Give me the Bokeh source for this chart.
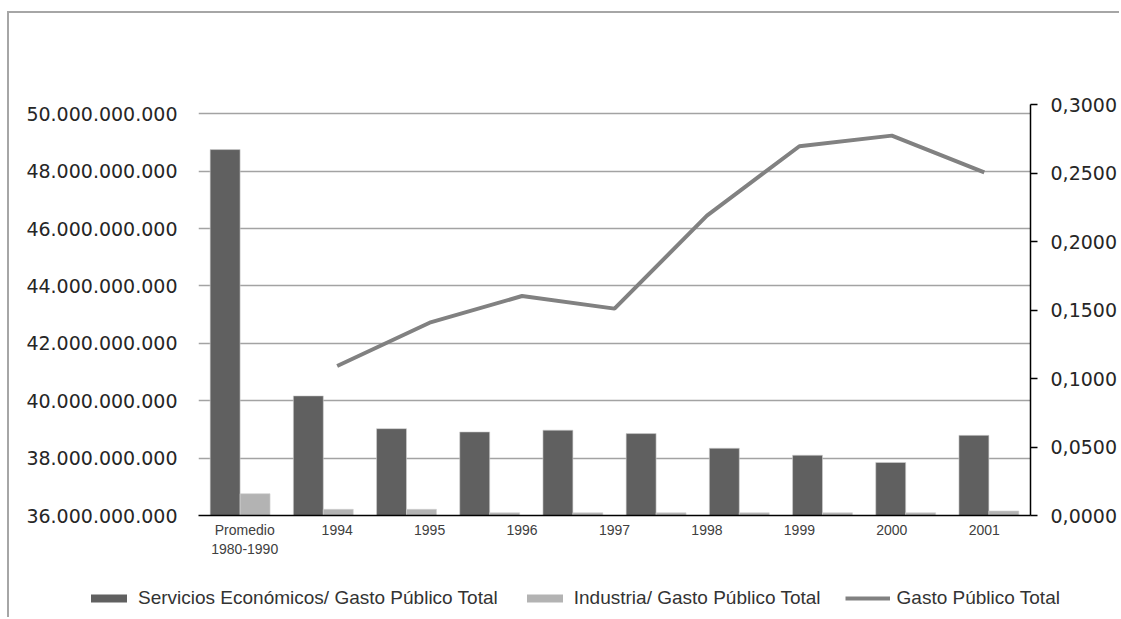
from bokeh.plotting import figure
from bokeh.models import (Range1d, FactorRange, LinearAxis, CategoricalAxis, FixedTicker,
                          Grid, CustomJSTickFormatter, Legend, LegendItem, ColumnDataSource)
from bokeh.embed import file_html
from bokeh.resources import INLINE

# ---- data ----
year_labels = ["Promedio\n1980-1990", "1994", "1995", "1996", "1997",
               "1998", "1999", "2000", "2001"]
bar_slots = [0, 1, 2, 3, 4, 5, 6, 7, 8, 9]
servicios_ratio = [0.2671, 0.0873, 0.0634, 0.0610, 0.0623, 0.0598, 0.0491, 0.0440, 0.0387, 0.0585]
industria_ratio = [0.0159, 0.0045, 0.0045, 0.0020, 0.0020, 0.0020, 0.0020, 0.0020, 0.0020, 0.0033]
gasto_years = ["1994", "1995", "1996", "1997", "1998", "1999", "2000", "2001"]
gasto_total = [41.21e9, 42.72e9, 43.65e9, 43.21e9, 46.45e9, 48.87e9, 49.24e9, 47.96e9]
left_ticks = [36e9, 38e9, 40e9, 42e9, 44e9, 46e9, 48e9, 50e9]
right_ticks = [0.0, 0.05, 0.10, 0.15, 0.20, 0.25, 0.30]

SERV_COLOR, IND_COLOR, LINE_COLOR = "#606060", "#b3b3b3", "#818181"
BOX_LINE = "2px solid #a6a6a6"

# ---- layout (page pixels) ----
OX, OY = 9, 13          # top-left of the chart box
W = 1112
FL, FR, FT, FB = 198, 1030, 104, 515
MAIN_H = 557
LEG_H = 619 - OY - MAIN_H

x_range = FactorRange(factors=year_labels, range_padding=0)
p = figure(width=W, height=MAIN_H, output_backend="svg", toolbar_location=None,
           x_range=x_range, y_range=Range1d(36e9, 50.325e9),
           x_axis_type=None, y_axis_type=None,
           min_border_left=FL - OX, min_border_right=OX + W - FR,
           min_border_top=FT - OY, min_border_bottom=OY + MAIN_H - FB)
p.outline_line_color = None
p.background_fill_color = "white"
p.border_fill_color = "white"
p.margin = (OY - 2, 0, 0, OX - 2)
p.styles = {"border-top": BOX_LINE, "border-left": BOX_LINE}

p.extra_y_ranges = {"ratio": Range1d(0, 0.30)}

# ---- axes ----
left = LinearAxis(ticker=FixedTicker(ticks=left_ticks))
left.formatter = CustomJSTickFormatter(code="""
    return Math.round(tick).toString().replace(/\\B(?=(\\d{3})+(?!\\d))/g, '.');
""")
left.axis_line_color = None
left.major_tick_line_color = None
left.minor_tick_line_color = None
left.major_label_standoff = 15
left.major_label_text_font = "DejaVu Sans"
left.major_label_text_font_size = "19px"
left.major_label_text_color = "#262626"
p.add_layout(left, "left")

right = LinearAxis(y_range_name="ratio", ticker=FixedTicker(ticks=right_ticks))
right.formatter = CustomJSTickFormatter(code="return tick.toFixed(4).replace('.', ',');")
right.axis_line_color = "black"
right.axis_line_width = 1.5
right.major_tick_line_color = "black"
right.major_tick_line_width = 1.5
right.major_tick_in = 0
right.major_tick_out = 7
right.minor_tick_line_color = None
right.major_label_standoff = 13
right.major_label_text_font = "DejaVu Sans"
right.major_label_text_font_size = "19px"
right.major_label_text_color = "#262626"
p.add_layout(right, "right")

bottom = CategoricalAxis()
bottom.axis_line_color = "black"
bottom.axis_line_width = 1.5
bottom.major_tick_line_color = None
bottom.minor_tick_line_color = None
bottom.major_label_standoff = 0
bottom.major_label_text_font = "Liberation Sans"
bottom.major_label_text_font_size = "14px"
bottom.major_label_text_color = "#404040"
p.add_layout(bottom, "below")

p.add_layout(Grid(dimension=1, ticker=left.ticker, grid_line_color="#a3a3a3",
                  grid_line_width=1.5))

# ---- bars (ratio axis): ten evenly spaced groups across the category span ----
n_labels, n_slots = len(year_labels), len(bar_slots)
slot_w = n_labels / n_slots
src = ColumnDataSource(dict(
    x_serv=[(s + 0.5 - 0.18) * slot_w for s in bar_slots],
    x_ind=[(s + 0.5 + 0.18) * slot_w for s in bar_slots],
    serv=servicios_ratio, ind=industria_ratio))
bar_style = dict(bottom=0, width=0.36 * slot_w, line_color="#d0d0d0", line_width=0.6)
p.vbar(x="x_serv", top="serv", source=src, y_range_name="ratio",
       fill_color=SERV_COLOR, **bar_style)
p.vbar(x="x_ind", top="ind", source=src, y_range_name="ratio",
       fill_color=IND_COLOR, **bar_style)

# ---- line (left axis) ----
p.line(x=gasto_years, y=gasto_total, line_color=LINE_COLOR, line_width=4)

# ---- legend strip under the chart ----
# Its key renderers reuse the series data; the strip's ranges keep them out of view.
lf = figure(width=W, height=LEG_H, output_backend="svg", toolbar_location=None,
            x_range=Range1d(-3, -2), y_range=Range1d(-3, -2),
            x_axis_type=None, y_axis_type=None, min_border=0)
lf.outline_line_color = None
lf.background_fill_color = "white"
lf.border_fill_color = "white"
lf.margin = (0, 0, 0, OX - 2)
lf.styles = {"border-left": BOX_LINE}
line_src = ColumnDataSource(dict(v=gasto_total))
k_serv = lf.vbar(x="x_serv", top="serv", source=src, fill_color=SERV_COLOR,
                 line_color=None, bottom=0, width=0.1)
k_ind = lf.vbar(x="x_ind", top="ind", source=src, fill_color=IND_COLOR,
                line_color=None, bottom=0, width=0.1)
k_line = lf.line(x="v", y="v", source=line_src, line_color=LINE_COLOR, line_width=4)

legend = Legend(items=[
    LegendItem(label="Servicios Económicos/ Gasto Público Total", renderers=[k_serv]),
    LegendItem(label="Industria/ Gasto Público Total", renderers=[k_ind]),
    LegendItem(label="Gasto Público Total", renderers=[k_line]),
], orientation="horizontal", location=(86 - OX, 8))
legend.padding = 0
legend.margin = 0
legend.spacing = 24
legend.border_line_color = None
legend.background_fill_alpha = 0
legend.glyph_width = 45
legend.glyph_height = 10
legend.label_height = 10
legend.label_standoff = 7
legend.label_text_font = "Liberation Sans"
legend.label_text_font_size = "19px"
legend.label_text_color = "#333333"
lf.add_layout(legend, "center")

open("out.html", "w").write(file_html([p, lf], INLINE))
